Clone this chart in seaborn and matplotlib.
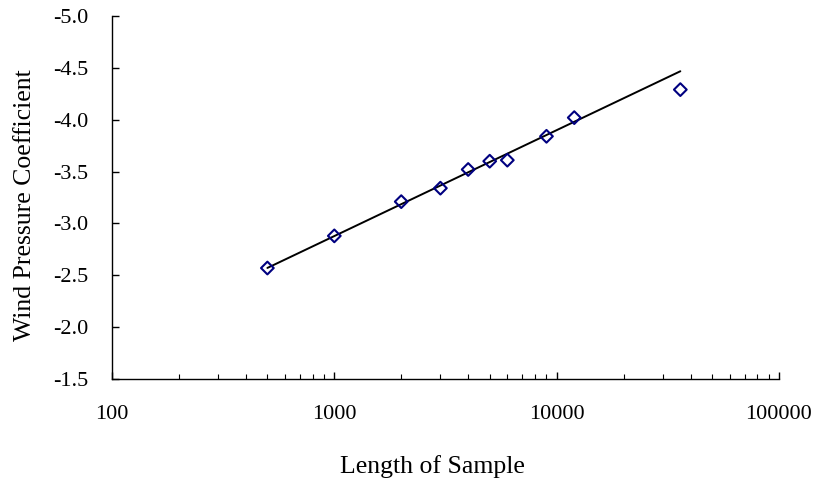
import numpy as np
import pandas as pd
import matplotlib
matplotlib.use("Agg")
import matplotlib.pyplot as plt
from matplotlib.ticker import FixedLocator, LogLocator, NullFormatter, FormatStrFormatter
import seaborn as sns

# значения
sample_length = [500, 1000, 2000, 3000, 4000, 5000, 6000, 9000, 12000, 36000]
pressure_coef = [-2.57, -2.88, -3.21, -3.34, -3.52, -3.60, -3.61, -3.84, -4.02, -4.29]
x_ticks = [100, 1000, 10000, 100000]
y_ticks = [-1.5, -2.0, -2.5, -3.0, -3.5, -4.0, -4.5, -5.0]
n_fit = 9  # линия тренда построена по первым 9 точкам


def make_plot():
    df = pd.DataFrame({"length": sample_length, "coef": pressure_coef})

    # логарифмический тренд y = a + b*log10(x)
    b, a = np.polyfit(np.log10(df["length"][:n_fit]), df["coef"][:n_fit], 1)
    xs = np.geomspace(df["length"].min(), df["length"].max(), 50)
    trend = pd.DataFrame({"length": xs, "coef": a + b * np.log10(xs)})

    sns.set_style("ticks", {"xtick.direction": "in", "ytick.direction": "in",
                            "text.color": "black", "axes.labelcolor": "black",
                            "xtick.color": "black", "ytick.color": "black",
                            "axes.edgecolor": "black"})
    plt.rcParams["font.family"] = ["Liberation Serif", "DejaVu Serif"]
    plt.rcParams["axes.unicode_minus"] = False
    plt.rcParams["font.size"] = 16

    fig = plt.figure(figsize=(8.18, 4.83), dpi=100)
    ax = fig.add_axes([0.1369, 0.2153, 0.8154, 0.7516])

    sns.lineplot(data=trend, x="length", y="coef", color="black", linewidth=1.4, ax=ax)
    sns.scatterplot(data=df, x="length", y="coef", marker="D", s=42,
                    facecolors="none", edgecolor="#000080", linewidth=1.5, ax=ax, zorder=3)

    ax.set_xscale("log")
    ax.set_xlim(100, 100000)
    ax.set_ylim(-1.5, -5.0)
    ax.xaxis.set_major_locator(FixedLocator(x_ticks))
    ax.set_xticklabels([str(t) for t in x_ticks])
    ax.xaxis.set_minor_locator(LogLocator(base=10, subs=np.arange(2, 10)))
    ax.xaxis.set_minor_formatter(NullFormatter())
    ax.yaxis.set_major_locator(FixedLocator(y_ticks))
    ax.yaxis.set_major_formatter(FormatStrFormatter("%.1f"))

    ax.tick_params(axis="both", which="major", labelsize=16, length=5, width=1,
                   color="black", labelcolor="black")
    ax.tick_params(axis="x", which="major", pad=19)
    ax.tick_params(axis="y", which="major", pad=17)
    ax.tick_params(axis="x", which="minor", length=3.5, width=0.8, color="black")

    for side in ["top", "right"]:
        ax.spines[side].set_visible(False)
    for side in ["left", "bottom"]:
        ax.spines[side].set_color("black")
        ax.spines[side].set_linewidth(1)

    ax.set_xlabel("Length of Sample", fontsize=18.5, labelpad=22, color="black")
    ax.set_ylabel("Wind Pressure Coefficient", fontsize=18.5, labelpad=12, color="black")
    ax.xaxis.label.set_x(0.48)
    ax.yaxis.label.set_y(0.479)

    fig.savefig("out.png", dpi=100)
    plt.close(fig)


def main():
    make_plot()


if __name__ == "__main__":
    main()
